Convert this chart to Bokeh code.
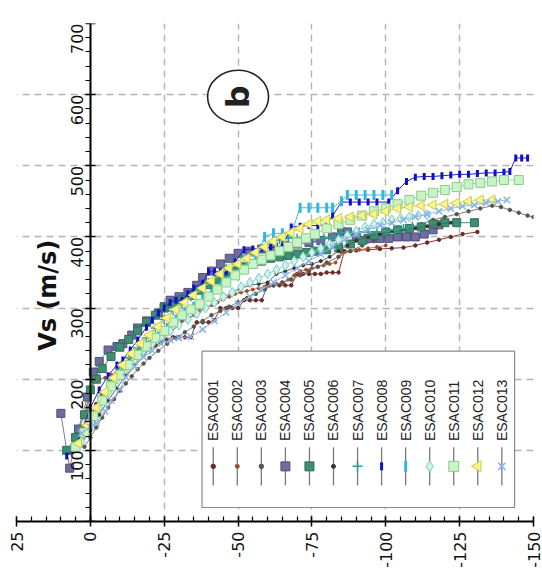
import math
from bokeh.plotting import figure
from bokeh.models import Range1d, FixedTicker, Label
from bokeh.embed import file_html
from bokeh.resources import INLINE
from bokeh.core.properties import value

# ---------------- data (depth [m], Vs [m/s]) ----------------
names = ["ESAC001", "ESAC002", "ESAC003", "ESAC004", "ESAC005", "ESAC006", "ESAC007",
         "ESAC008", "ESAC009", "ESAC010", "ESAC011", "ESAC012", "ESAC013"]

depth_ticks = [25, 0, -25, -50, -75, -100, -125, -150]
vs_ticks = [0, 100, 200, 300, 400, 500, 600, 700]

d001 = [4, 2, 0, -2, -4, -6, -8, -10, -12, -14, -16, -18, -20, -22, -24, -26, -28, -30, -32, -34,
        -36, -38, -40, -42, -44, -46, -48, -50, -52, -54, -56, -58, -60, -62, -64, -66, -68, -70,
        -72, -74, -76, -78, -80, -82, -84, -86, -90, -94, -98, -102, -106, -110, -114, -118, -122,
        -126, -131]
v001 = [112, 130, 150, 165, 178, 190, 200, 208, 216, 224, 230, 236, 242, 247, 252, 256, 259, 259,
        259, 259, 280, 280, 280, 283, 300, 300, 300, 300, 311, 311, 311, 311, 332, 332, 332, 332,
        332, 348, 348, 348, 348, 348, 350, 350, 350, 380, 381, 382, 383, 384, 385, 388, 392, 396,
        400, 404, 407]

d002 = [3, 1, -1, -3, -5, -7, -9, -11, -13, -15, -17, -19, -21, -23, -25, -27, -29, -31, -33, -35,
        -37, -39, -41, -43, -45, -47, -49, -51, -53, -55, -57, -59, -61, -63, -65, -67, -69, -71,
        -73, -75, -77, -79, -81, -83, -85, -88, -91, -94, -97, -100]
v002 = [120, 160, 198, 200, 202, 206, 212, 220, 228, 236, 244, 250, 256, 262, 268, 272, 276, 282,
        286, 290, 296, 300, 304, 308, 312, 316, 320, 322, 324, 326, 328, 330, 332, 334, 336, 340,
        346, 352, 354, 356, 358, 360, 362, 364, 378, 380, 382, 384, 386, 388]

d003 = [2, 0, -2, -4, -6, -8, -10, -12, -14, -16, -18, -20, -23, -26, -29, -32, -35, -38, -41, -44,
        -47, -50, -53, -56, -59, -62, -65, -68, -71, -74, -77, -80, -84, -88, -92, -96, -100, -104,
        -108, -112, -116, -120, -124, -128, -132, -136, -139, -142, -145, -148, -150]
v003 = [105, 118, 132, 146, 160, 172, 184, 194, 204, 214, 222, 230, 240, 250, 258, 266, 274, 282,
        290, 296, 302, 308, 314, 320, 326, 332, 336, 340, 346, 352, 358, 364, 372, 380, 388, 394,
        400, 406, 412, 418, 424, 428, 432, 436, 440, 444, 442, 438, 434, 430, 428]

d004 = [10, 7, 4, 1, -1, -3, -6, -9, -11, -14, -16, -19, -23, -25, -27, -30, -33, -36, -38, -41,
        -44, -47, -50, -54, -58, -62, -66, -70, -74, -78, -82, -85, -87, -90, -94, -98, -101, -104,
        -107, -110, -113, -116, -118]
v004 = [152, 75, 130, 175, 210, 225, 241, 246, 250, 262, 272, 282, 293, 302, 311, 316, 322, 332,
        343, 352, 362, 370, 377, 380, 383, 386, 388, 390, 392, 395, 400, 407, 407, 400, 398, 398,
        398, 400, 400, 400, 404, 410, 417]

d005 = [8, 5, 2, 0, -2, -4, -7, -10, -13, -16, -19, -22, -25, -28, -31, -34, -37, -40, -43, -46,
        -49, -52, -55, -58, -61, -64, -67, -70, -73, -76, -80, -84, -88, -92, -96, -100, -104, -108,
        -112, -116, -120, -124, -130]
v005 = [100, 118, 150, 185, 200, 215, 232, 245, 256, 268, 280, 290, 300, 306, 312, 318, 325, 333,
        340, 346, 352, 358, 362, 366, 370, 372, 374, 376, 378, 380, 382, 385, 390, 395, 402, 407,
        410, 412, 414, 418, 420, 420, 420]

d006 = [3, 0, -3, -6, -9, -12, -15, -18, -21, -24, -27, -30, -33, -36, -39, -42, -45, -48, -51, -54,
        -57, -60, -63, -66, -69, -72, -75, -78, -81, -84, -87, -90, -94, -98, -102, -106, -110, -114,
        -118, -122]
v006 = [110, 128, 150, 170, 188, 205, 220, 233, 246, 256, 266, 276, 285, 292, 300, 308, 316, 322,
        328, 332, 334, 336, 348, 352, 356, 360, 362, 366, 372, 380, 388, 395, 400, 404, 408, 410,
        412, 415, 418, 420]

d007 = [5, 2, -1, -4, -7, -10, -13, -16, -19, -22, -25, -28, -31, -34, -37, -40, -43, -46, -49, -52,
        -55, -58, -61, -64, -67, -70, -73, -76, -79, -82, -85, -88, -91, -94, -97, -100, -103, -106,
        -109]
v007 = [105, 125, 150, 176, 198, 215, 230, 244, 258, 272, 284, 296, 306, 316, 326, 336, 346, 356,
        364, 372, 378, 384, 390, 396, 398, 398, 398, 398, 398, 400, 406, 407, 407, 407, 407, 408,
        410, 412, 415]

d008 = [8, 6, 3, 0, -3, -6, -9, -11, -13.5, -16, -19, -21, -23, -25, -27, -29, -31, -33, -35, -38,
        -40, -42, -44, -46, -49, -52, -55, -58, -61, -65, -68, -71, -74, -77, -80, -82, -85, -88,
        -91, -94, -97, -101, -104, -107, -110, -113, -116, -119, -122, -125, -128, -131, -134,
        -137, -140, -142, -144, -146, -148]
v008 = [92, 100, 125, 160, 185, 205, 220, 227, 241, 255, 273, 283, 293, 300, 308, 311, 311, 320,
        328, 335, 351, 351, 351, 351, 365, 382, 383, 384, 385, 386, 414, 415, 416, 416, 417, 430,
        449, 449, 449, 449, 449, 449, 465, 478, 484, 485, 485, 486, 487, 488, 488, 489, 490, 490,
        491, 492, 511, 511, 511]

d009 = [4, 1, -2, -5, -8, -11, -14, -17, -20, -23, -26, -29, -32, -35, -38, -41, -44, -47, -50, -53,
        -56, -59, -62, -65, -68, -71, -74, -77, -80, -82, -85, -87, -90, -93, -96, -99, -102]
v009 = [108, 128, 150, 172, 192, 208, 222, 236, 248, 260, 272, 284, 294, 302, 312, 320, 330, 338,
        348, 358, 372, 400, 405, 405, 405, 441, 441, 441, 441, 441, 450, 459, 459, 459, 459, 459,
        459]

d010 = [3, 0, -3, -6, -9, -12, -15, -18, -21, -24, -27, -30, -33, -36, -39, -42, -45, -48, -51, -54,
        -57, -60, -63, -66, -69, -72, -75, -78, -81, -84, -87, -90, -93, -96, -99, -102, -105, -108,
        -111, -114]
v010 = [112, 135, 160, 182, 200, 215, 228, 240, 250, 260, 268, 276, 284, 292, 300, 308, 316, 322,
        330, 336, 342, 348, 354, 360, 366, 372, 378, 384, 390, 396, 402, 408, 414, 418, 420, 424,
        426, 428, 430, 431]

d011 = [5, 2, -1, -4, -7, -10, -13, -16, -19, -22, -25, -28, -31, -34, -37, -40, -43, -46, -49, -52,
        -55, -58, -61, -64, -67, -70, -73, -76, -80, -84, -88, -92, -96, -100, -104, -108, -112,
        -116, -120, -124, -128, -132, -136, -140, -145]
v011 = [105, 125, 148, 170, 190, 206, 220, 234, 246, 258, 268, 280, 290, 298, 306, 316, 326, 336,
        346, 354, 362, 368, 374, 380, 386, 392, 398, 404, 412, 418, 424, 430, 436, 440, 446, 452,
        458, 462, 466, 470, 474, 476, 478, 480, 480]

d012 = [4, 1, -2, -5, -8, -11, -14, -17, -20, -23, -26, -29, -32, -35, -38, -41, -44, -47, -50, -53,
        -56, -59, -62, -65, -68, -71, -74, -77, -80, -84, -88, -92, -96, -100, -104, -108, -112,
        -116, -120, -124, -128, -132, -136]
v012 = [110, 135, 160, 182, 202, 220, 236, 250, 262, 274, 286, 298, 308, 318, 328, 338, 348, 356,
        362, 370, 378, 386, 394, 400, 406, 412, 418, 422, 424, 426, 428, 430, 432, 436, 440, 442,
        444, 445, 446, 448, 450, 452, 452]

d013 = [3, 0, -2, -5, -7, -10, -12, -15, -18, -21, -24, -27, -30, -34, -38, -42, -46, -50, -54, -58,
        -62, -66, -70, -74, -78, -82, -86, -90, -94, -98, -102, -106, -110, -114, -118, -122, -126,
        -130, -134, -138, -141]
v013 = [124, 133, 138, 155, 170, 186, 203, 218, 231, 240, 250, 255, 258, 260, 270, 282, 294, 306,
        316, 326, 336, 346, 356, 366, 376, 386, 396, 404, 410, 416, 420, 424, 428, 432, 436, 440,
        443, 445, 448, 450, 452]

depths = [d001, d002, d003, d004, d005, d006, d007, d008, d009, d010, d011, d012, d013]
speeds = [v001, v002, v003, v004, v005, v006, v007, v008, v009, v010, v011, v012, v013]

# ---------------- styles ----------------
HALF = math.pi / 2
styles = [
    dict(lc="#8b3a3a", marker="circle", size=3.5, fill="#6b2a2a", edge="#6b2a2a", lw=1, angle=0),
    dict(lc="#c8783c", marker="circle", size=3, fill="#9a5030", edge="#9a5030", lw=1, angle=0),
    dict(lc="#8c7b6b", marker="circle", size=3.5, fill="#555555", edge="#555555", lw=1, angle=0),
    dict(lc="#7a7a9a", marker="square", size=8, fill="#6e6e9e", edge="#4e4e7e", lw=1, angle=0),
    dict(lc="#4a8a70", marker="square", size=8, fill="#3e8e72", edge="#2e6e58", lw=1, angle=0),
    dict(lc="#606060", marker="circle", size=3, fill="#333333", edge="#333333", lw=1, angle=0),
    dict(lc="#3a9a8a", marker="cross", size=9, fill=None, edge="#2a9d8f", lw=1.5, angle=0),
    dict(lc="#2020c0", marker="dash", size=7, fill=None, edge="#1010c8", lw=3, angle=HALF),
    dict(lc="#40b8d8", marker="dash", size=10, fill=None, edge="#30b8e0", lw=3, angle=HALF),
    dict(lc="#90d0d0", marker="diamond", size=10, fill="#cdf3ef", edge="#7ccdbf", lw=1, angle=0),
    dict(lc="#a0d8a0", marker="square", size=9, fill="#c8f4c8", edge="#8ccc8c", lw=1, angle=0),
    dict(lc="#d8d870", marker="triangle", size=10, fill="#f6f68c", edge="#cccc55", lw=1, angle=HALF),
    dict(lc="#90b8e0", marker="x", size=9, fill=None, edge="#88b4e8", lw=1.5, angle=0),
]

FONT = "DejaVu Sans"

p = figure(width=542, height=582, output_backend="svg", toolbar_location=None,
           x_range=Range1d(25, -150), y_range=Range1d(0, 700),
           min_border_left=16, min_border_right=9, min_border_top=23, min_border_bottom=61)
p.outline_line_color = None
p.background_fill_color = "white"

# axes
xa = p.xaxis[0]
xa.ticker = FixedTicker(ticks=depth_ticks, minor_ticks=list(range(25, -151, -5)))
xa.major_label_overrides = {t: str(t) for t in depth_ticks}
ya = p.yaxis[0]
ya.ticker = FixedTicker(ticks=vs_ticks, minor_ticks=list(range(0, 701, 20)))
ya.fixed_location = 0
for ax in (xa, ya):
    ax.axis_line_color = "black"
    ax.axis_line_width = 2
    ax.major_tick_line_color = "black"
    ax.major_tick_line_width = 1.5
    ax.minor_tick_line_color = "black"
    ax.minor_tick_line_width = 1.2
    ax.major_tick_in = 5
    ax.major_tick_out = 5
    ax.major_label_orientation = HALF
    ax.major_label_text_font = FONT
    ax.major_label_text_font_size = "16px"
    ax.major_label_text_color = "#111111"
xa.major_label_standoff = 5
ya.major_label_standoff = 8
xa.minor_tick_in = 5
xa.minor_tick_out = 0
ya.minor_tick_in = 0
ya.minor_tick_out = 5

for g in (p.xgrid[0], p.ygrid[0]):
    g.grid_line_color = "#b4b4b4"
    g.grid_line_dash = "7 5"
    g.grid_line_width = 1.4

# data
for dep, vs, st in zip(depths, speeds, styles):
    n = min(len(dep), len(vs))
    dep, vs = dep[:n], vs[:n]
    p.line(dep, vs, line_color=st["lc"], line_width=1)
    p.scatter(dep, vs, marker=st["marker"], size=st["size"], angle=st["angle"],
              fill_color=st["fill"], line_color=st["edge"], line_width=st["lw"])

# legend (rotated, drawn in data space)
leg_left, leg_right, leg_bottom, leg_top = -37.8, -143.6, 19.7, 239.4
p.quad(left=[leg_left], right=[leg_right], bottom=[leg_bottom], top=[leg_top],
       fill_color="white", line_color="#8a8a8a", line_width=1.2)
x0, step = -41.6, -8.14
for i, (name, st) in enumerate(zip(names, styles)):
    xd = x0 + step * i
    p.segment(x0=[xd], y0=[50.7], x1=[xd], y1=[104.2], line_color="#7a7a7a", line_width=1.3)
    p.scatter([xd], [77.5], marker=st["marker"], size=st["size"] + 1, angle=st["angle"],
              fill_color=st["fill"], line_color=st["edge"], line_width=st["lw"])
    p.text(x=[xd], y=[113], text=[name], angle=HALF, text_align="left", text_baseline="middle",
           text_font=value("Liberation Sans"), text_font_size="14px", text_color="#222222")

# panel letter
p.ellipse(x=[-50], y=[597], width=61, height=53, width_units="screen", height_units="screen",
          fill_color="white", line_color="#222222", line_width=1.6)
p.text(x=[-50], y=[597], text=["b"], angle=HALF, text_align="center", text_baseline="middle",
       text_font=value(FONT), text_font_size="32px", text_font_style="bold", text_color="#222222")

# axis titles
p.add_layout(Label(x=14.5, y=318, text="Vs (m/s)", angle=HALF, text_align="center",
                   text_baseline="middle", text_font=FONT, text_font_size="24px",
                   text_font_style="bold", text_color="#111111"))
p.add_layout(Label(x=1.5, y=-51, text="depth [m]", angle=math.pi, text_align="center",
                   text_baseline="middle", text_font=FONT, text_font_size="22px",
                   text_font_style="bold", text_color="#111111"))

open("out.html", "w").write(file_html(p, INLINE))
